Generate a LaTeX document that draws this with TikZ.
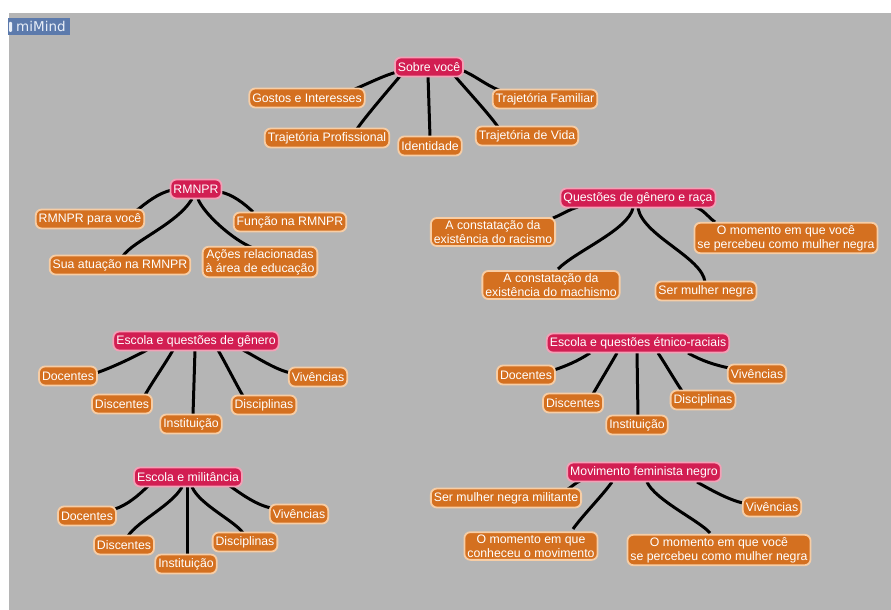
\documentclass[tikz,border=0pt]{standalone}
\usepackage{fontspec}
\setmainfont{Liberation Sans}
\newfontfamily\mmfont{DejaVu Sans}
\usetikzlibrary{calc}
\definecolor{bggray}{RGB}{181,181,181}
\definecolor{orangefill}{RGB}{212,112,32}
\definecolor{orangeedge}{RGB}{247,205,165}
\definecolor{pinkfill}{RGB}{210,30,82}
\definecolor{pinkedge}{RGB}{243,160,182}
\definecolor{mmblue}{RGB}{92,122,172}
\definecolor{mmtext}{RGB}{232,238,248}
\pgfdeclarelayer{bg}
\pgfdeclarelayer{lines}
\pgfsetlayers{bg,lines,main}
\begin{document}
\begin{tikzpicture}[x=1pt,y=-1pt,
  leaf/.style={draw=orangeedge, fill=orangefill, line width=1.8pt, rounded corners=6pt,
    text=white, font=\fontsize{12.3}{14}\selectfont, inner xsep=3pt, inner ysep=2.5pt,
    minimum height=19pt, align=center},
  hub/.style={leaf, draw=pinkedge, fill=pinkfill},
  link/.style={line width=3pt, black}
]
\useasboundingbox (0,0) rectangle (891,610);
\begin{pgfonlayer}{bg}
  \fill[white] (0,0) rectangle (891,610);
  \fill[bggray] (9,13) rectangle (891,610);
\end{pgfonlayer}
% miMind label
\fill[mmblue] (8,18) rectangle (70,35);
\fill[mmtext, rounded corners=1pt] (9,22) rectangle (12,32);
\node[anchor=base west, inner sep=0pt, text=mmtext, font=\mmfont\fontsize{13.5}{15}\selectfont] (mm) at (16,32) {miMind};

% Sobre você
\node[hub] (sv) at (429,67) {Sobre você};
\node[leaf] (gi) at (307,98) {Gostos e Interesses};
\node[leaf] (tp) at (327,138) {Trajetória Profissional};
\node[leaf] (id) at (430,146) {Identidade};
\node[leaf] (tv) at (527,136) {Trajetória de Vida};
\node[leaf] (tf) at (545,99) {Trajetória Familiar};

% RMNPR
\node[hub] (rm) at (196,189) {RMNPR};
\node[leaf] (rp) at (90,219) {RMNPR para você};
\node[leaf] (sa) at (120,265) {Sua atuação na RMNPR};
\node[leaf] (ac) at (260,262) {Ações relacionadas\\à área de educação};
\node[leaf] (fn) at (290,222) {Função na RMNPR};

% Questões de gênero e raça
\node[hub] (qg) at (638,198) {Questões de gênero e raça};
\node[leaf] (rc) at (493,232) {A constatação da\\existência do racismo};
\node[leaf] (mc) at (551,285) {A constatação da\\existência do machismo};
\node[leaf] (smn) at (706,291) {Ser mulher negra};
\node[leaf] (mv) at (786,238) {O momento em que você\\se percebeu como mulher negra};

% Escola e questões de gênero
\node[hub] (eg) at (196,341) {Escola e questões de gênero};
\node[leaf] (d1) at (68,376) {Docentes};
\node[leaf] (s1) at (122,404) {Discentes};
\node[leaf] (i1) at (191,424) {Instituição};
\node[leaf] (p1) at (264,405) {Disciplinas};
\node[leaf] (v1) at (318,377) {Vivências};

% Escola e questões étnico-raciais
\node[hub] (er) at (638,343) {Escola e questões étnico-raciais};
\node[leaf] (d2) at (526,375) {Docentes};
\node[leaf] (s2) at (573,403) {Discentes};
\node[leaf] (i2) at (637,425) {Instituição};
\node[leaf] (p2) at (703,400) {Disciplinas};
\node[leaf] (v2) at (757,374) {Vivências};

% Escola e militância
\node[hub] (em) at (188,477) {Escola e militância};
\node[leaf] (d3) at (87,516) {Docentes};
\node[leaf] (s3) at (124,545) {Discentes};
\node[leaf] (i3) at (186,564) {Instituição};
\node[leaf] (p3) at (245,542) {Disciplinas};
\node[leaf] (v3) at (299,514) {Vivências};

% Movimento feminista negro
\node[hub] (mf) at (644,472) {Movimento feminista negro};
\node[leaf] (sm) at (506,498) {Ser mulher negra militante};
\node[leaf] (mc2) at (531,546) {O momento em que\\conheceu o movimento};
\node[leaf] (mv2) at (719,550) {O momento em que você\\se percebeu como mulher negra};
\node[leaf] (vv) at (772,507) {Vivências};

\begin{pgfonlayer}{lines}
% Sobre você
\draw[link] ($(sv)+(-32,5)$) .. controls +(-12,3) and +(12,-5) .. ($(gi)+(48,-9)$);
\draw[link] ($(sv)+(-28,8)$) .. controls +(-10,12) and +(8,-12) .. ($(tp)+(30,-9)$);
\draw[link] ($(sv)+(-1,8)$) -- ($(id)+(0,-9)$);
\draw[link] ($(sv)+(25,8)$) .. controls +(10,12) and +(-8,-12) .. ($(tv)+(-29,-9)$);
\draw[link] ($(sv)+(32,3)$) .. controls +(12,4) and +(-12,-4) .. ($(tf)+(-46,-9)$);
% RMNPR
\draw[link] ($(rm)+(-24,1)$) .. controls +(-14,3) and +(10,-8) .. ($(rp)+(46,-8)$);
\draw[link] ($(rm)+(-4,10)$) .. controls +(-15,25) and +(10,-15) .. ($(sa)+(3,-9)$);
\draw[link] ($(rm)+(2,10)$) .. controls +(6,15) and +(-20,-8) .. ($(ac)+(-7,-14)$);
\draw[link] ($(rm)+(24,3)$) .. controls +(12,2) and +(-8,-8) .. ($(fn)+(-37,-10)$);
% Questões
\draw[link] ($(qg)+(-60,9)$) .. controls +(-8,2) and +(8,-3) .. ($(rc)+(60,-14)$);
\draw[link] ($(qg)+(-5,10)$) .. controls +(-5,22) and +(18,-18) .. ($(mc)+(7,-16)$);
\draw[link] ($(qg)+(0,10)$) .. controls +(5,28) and +(-3,-25) .. ($(smn)+(-1,-9)$);
\draw[link] ($(qg)+(57,9)$) .. controls +(8,2) and +(-6,-4) .. ($(mv)+(-71,-16)$);
% Escola e questões de gênero
\draw[link] ($(eg)+(-49,9)$) .. controls +(-15,8) and +(15,-5) .. ($(d1)+(28,-3)$);
\draw[link] ($(eg)+(-23,9)$) .. controls +(-8,14) and +(8,-14) .. ($(s1)+(23,-9)$);
\draw[link] ($(eg)+(-1,9)$) -- ($(i1)+(2,-9)$);
\draw[link] ($(eg)+(22,9)$) .. controls +(8,14) and +(-8,-14) .. ($(p1)+(-21,-9)$);
\draw[link] ($(eg)+(47,9)$) .. controls +(15,8) and +(-15,-3) .. ($(v1)+(-27,-4)$);
% Escola e questões étnico-raciais
\draw[link] ($(er)+(-48,10)$) .. controls +(-12,8) and +(12,-4) .. ($(d2)+(28,-5)$);
\draw[link] ($(er)+(-21,10)$) .. controls +(-8,14) and +(8,-14) .. ($(s2)+(20,-9)$);
\draw[link] ($(er)+(-1,10)$) -- ($(i2)+(1,-9)$);
\draw[link] ($(er)+(20,10)$) .. controls +(8,12) and +(-8,-12) .. ($(p2)+(-21,-9)$);
\draw[link] ($(er)+(50,10)$) .. controls +(14,8) and +(-14,-3) .. ($(v2)+(-28,-6)$);
% Escola e militância
\draw[link] ($(em)+(-40,9)$) .. controls +(-10,10) and +(12,-4) .. ($(d3)+(28,-7)$);
\draw[link] ($(em)+(-6,10)$) .. controls +(-10,18) and +(10,-15) .. ($(s3)+(4,-9)$);
\draw[link] ($(em)+(-1,10)$) -- ($(i3)+(1,-9)$);
\draw[link] ($(em)+(4,10)$) .. controls +(8,18) and +(-8,-12) .. ($(p3)+(-2,-9)$);
\draw[link] ($(em)+(42,9)$) .. controls +(14,10) and +(-14,-3) .. ($(v3)+(-28,-6)$);
% Movimento feminista negro
\draw[link] ($(mf)+(-64,9)$) .. controls +(-5,2) and +(5,-3) .. ($(sm)+(62,-9)$);
\draw[link] ($(mf)+(-32,10)$) .. controls +(-10,14) and +(10,-14) .. ($(mc2)+(42,-17)$);
\draw[link] ($(mf)+(3,10)$) .. controls +(8,18) and +(-10,-12) .. ($(mv2)+(-9,-17)$);
\draw[link] ($(mf)+(53,10)$) .. controls +(14,8) and +(-14,-3) .. ($(vv)+(-29,-4)$);
\end{pgfonlayer}
\end{tikzpicture}
\end{document}
